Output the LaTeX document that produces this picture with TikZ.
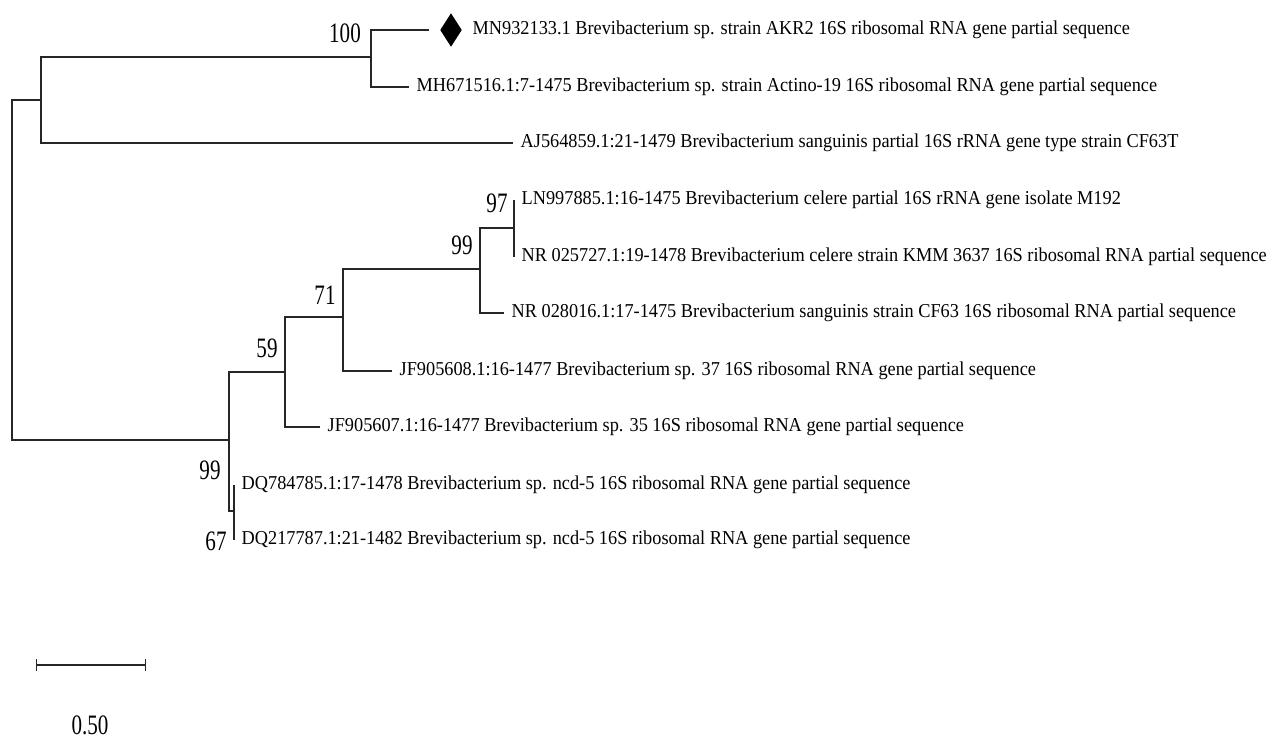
\documentclass[tikz,border=0pt]{standalone}
\usepackage{fontspec}
\setmainfont[FakeStretch=0.93]{Liberation Serif}
\newfontfamily\bootfont[FakeStretch=0.75]{Liberation Serif}
\usetikzlibrary{shapes.geometric,arrows.meta}

\begin{document}
\begin{tikzpicture}[x=0.02cm, y=-0.02cm, line width=0.75pt, draw=black!85,
  leaf/.style={anchor=west, inner xsep=4pt, inner ysep=0pt, font=\fontsize{11.2}{13}\selectfont},
  boot/.style={inner sep=0pt, font=\bootfont\fontsize{16}{18}\selectfont}]
\useasboundingbox (0,0) rectangle (1272,738);
% junctions of the tree
\coordinate (n0) at (12,270); \coordinate (n1) at (41,100); \coordinate (n2) at (371,57);
\coordinate (n5) at (229,440); \coordinate (n6) at (285,372); \coordinate (n7) at (343,317);
\coordinate (n8) at (480,269); \coordinate (n10) at (514,228); \coordinate (n9) at (234,511);
% leaves
\node[diamond, fill=black, inner sep=0pt, aspect=0.65, minimum width=0.44cm, minimum height=0.68cm] (dmd) at (451,30) {};
\node[leaf] (mn) at (465,30) {MN932133.1 Brevibacterium sp. strain AKR2 16S ribosomal RNA gene partial sequence};
\node[leaf] (mh) at (409,87) {MH671516.1:7-1475 Brevibacterium sp. strain Actino-19 16S ribosomal RNA gene partial sequence};
\node[leaf] (aj) at (513,143) {AJ564859.1:21-1479 Brevibacterium sanguinis partial 16S rRNA gene type strain CF63T};
\node[leaf] (ln) at (514,200) {LN997885.1:16-1475 Brevibacterium celere partial 16S rRNA gene isolate M192};
\node[leaf] (nr27) at (514,257) {NR 025727.1:19-1478 Brevibacterium celere strain KMM 3637 16S ribosomal RNA partial sequence};
\node[leaf] (nr16) at (504,313) {NR 028016.1:17-1475 Brevibacterium sanguinis strain CF63 16S ribosomal RNA partial sequence};
\node[leaf] (jf8) at (392,371) {JF905608.1:16-1477 Brevibacterium sp. 37 16S ribosomal RNA gene partial sequence};
\node[leaf] (jf7) at (320,427) {JF905607.1:16-1477 Brevibacterium sp. 35 16S ribosomal RNA gene partial sequence};
\node[leaf] (dq85) at (234,485) {DQ784785.1:17-1478 Brevibacterium sp. ncd-5 16S ribosomal RNA gene partial sequence};
\node[leaf] (dq87) at (234,540) {DQ217787.1:21-1482 Brevibacterium sp. ncd-5 16S ribosomal RNA gene partial sequence};
% bootstrap values
\node[boot] (b100) at (345,33) {100};
\node[boot] (b97) at (497,203) {97};
\node[boot] (b99a) at (462,245) {99};
\node[boot] (b71) at (325,295) {71};
\node[boot] (b59) at (267,348) {59};
\node[boot] (b99b) at (210,470) {99};
\node[boot] (b67) at (216,541) {67};
% branches
\draw (n1) -| (n0) |- (n5); \draw (n2) -| (n1) |- (aj.west);
\draw[shorten <=0.2cm] (dmd.west) -| (n2) |- (mh.west);
\draw (n6) -| (n5) |- (n9); \draw (n7) -| (n6) |- (jf7.west); \draw (n8) -| (n7) |- (jf8.west);
\draw (n10) -| (n8) |- (nr16.west); \draw (ln.west) -| (n10) |- (nr27.west); \draw (dq85.west) -| (n9) |- (dq87.west);
% scale bar
\coordinate (sa) at (36,665); \coordinate (sb) at (146,665);
\draw[{Bar[width=0.24cm]}-{Bar[width=0.24cm]}] (sa) -- (sb);
\node[boot] (scl) at (90,725) {0.50};
\end{tikzpicture}
\end{document}
